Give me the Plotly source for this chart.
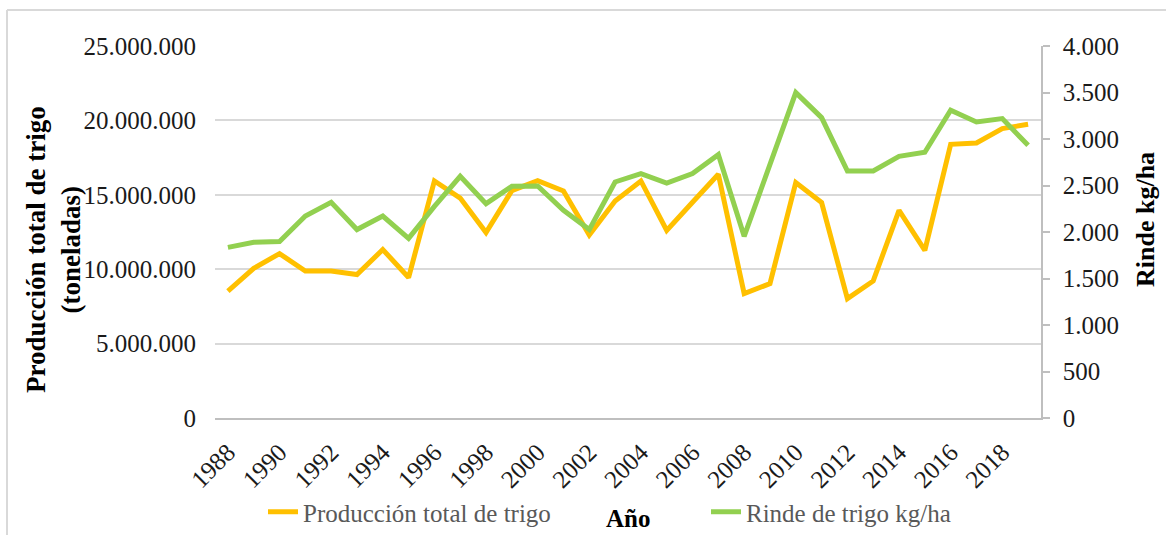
import plotly.graph_objects as go

years = list(range(1988, 2020))
produccion = [8530000, 10060000, 11050000, 9880000, 9880000, 9640000, 11320000, 9440000,
              15930000, 14780000, 12460000, 15280000, 15950000, 15260000, 12300000, 14580000,
              15930000, 12610000, 14500000, 16380000, 8360000, 9030000, 15820000, 14480000,
              8020000, 9210000, 13960000, 11270000, 18390000, 18480000, 19450000, 19740000]
rinde = [1835, 1889, 1897, 2172, 2319, 2026, 2172, 1932,
         2276, 2599, 2305, 2491, 2495, 2233, 2026, 2538,
         2628, 2527, 2628, 2832, 1954, 2731, 3499, 3230,
         2656, 2656, 2814, 2857, 3309, 3183, 3219, 2932]

FONT = "Liberation Serif"
FS = 25
W, H = 1166, 535
ML, MR, MT, MB = 215, 125, 46, 117
PW, PH = W - ML - MR, H - MT - MB


def px(x):
    return (x - ML) / PW


def py(y):
    return (H - MB - y) / PH


fig = go.Figure()
fig.add_trace(go.Scatter(x=years, y=produccion, mode="lines", name="Producción total de trigo",
                         line=dict(color="#FFC000", width=5), legend="legend"))
fig.add_trace(go.Scatter(x=years, y=rinde, mode="lines", name="Rinde de trigo kg/ha",
                         line=dict(color="#92D050", width=5), yaxis="y2", legend="legend2"))

legend_common = dict(orientation="h", xanchor="left", yanchor="middle", y=py(512),
                     bgcolor="rgba(0,0,0,0)", font=dict(family=FONT, size=FS, color="#595959"))

fig.update_layout(
    width=W, height=H,
    margin=dict(l=ML, r=MR, t=MT, b=MB, autoexpand=False),
    paper_bgcolor="white", plot_bgcolor="white",
    separators=",.",
    font=dict(family=FONT, size=FS, color="#1a1a1a"),
    xaxis=dict(range=[1987.5, 2019.5], tickmode="linear", tick0=1988, dtick=2,
               tickangle=-45, showgrid=False, showline=True, linecolor="#bfbfbf", linewidth=1.5,
               ticks="", zeroline=False, automargin=False, ticklabelstandoff=8,
               tickfont=dict(family=FONT, size=FS, color="#1a1a1a")),
    yaxis=dict(range=[0, 25000000], dtick=5000000, tickformat=",d", showgrid=True,
               gridcolor="#d9d9d9", gridwidth=1.5, zeroline=False, showline=False, ticks="",
               automargin=False, ticklabelstandoff=18,
               tickfont=dict(family=FONT, size=FS, color="#1a1a1a")),
    yaxis2=dict(range=[0, 4000], dtick=500, tickformat=",d", overlaying="y", side="right",
                showgrid=False, zeroline=False, showline=True, linecolor="#bfbfbf", linewidth=1.5,
                ticks="outside", ticklen=7, tickcolor="#bfbfbf", tickwidth=1.5, automargin=False,
                ticklabelstandoff=8,
                tickfont=dict(family=FONT, size=FS, color="#1a1a1a")),
    showlegend=True,
    legend=dict(x=px(263), **legend_common),
    legend2=dict(x=px(706), **legend_common),
    annotations=[
        dict(text="<b>Producción total de trigo<br>(toneladas)</b>", textangle=-90,
             xref="paper", yref="paper", x=px(54), y=py(250), xanchor="center", yanchor="middle",
             showarrow=False, font=dict(family=FONT, size=27, color="#000000")),
        dict(text="<b>Rinde kg/ha</b>", textangle=-90,
             xref="paper", yref="paper", x=px(1145), y=py(220), xanchor="center", yanchor="middle",
             showarrow=False, font=dict(family=FONT, size=26, color="#000000")),
        dict(text="<b>Año</b>", xref="paper", yref="paper", x=px(628), y=py(518),
             xanchor="center", yanchor="middle", showarrow=False,
             font=dict(family=FONT, size=FS, color="#000000")),
        dict(text="<b>Trigo: rinde vs. producción total (1988-2019)</b>", xref="paper", yref="paper",
             x=px(321), y=py(-1), xanchor="left", yanchor="bottom", showarrow=False,
             font=dict(family=FONT, size=29, color="#000000")),
    ],
    shapes=[
        dict(type="line", xref="paper", yref="paper", x0=px(7), x1=px(1166), y0=py(10), y1=py(10),
             line=dict(color="#d9d9d9", width=2)),
        dict(type="line", xref="paper", yref="paper", x0=px(7), x1=px(7), y0=py(10), y1=py(535),
             line=dict(color="#d9d9d9", width=2)),
    ],
)

fig.write_html("out.html", config={"displayModeBar": False},
               post_script="document.body.style.margin='0px';")
